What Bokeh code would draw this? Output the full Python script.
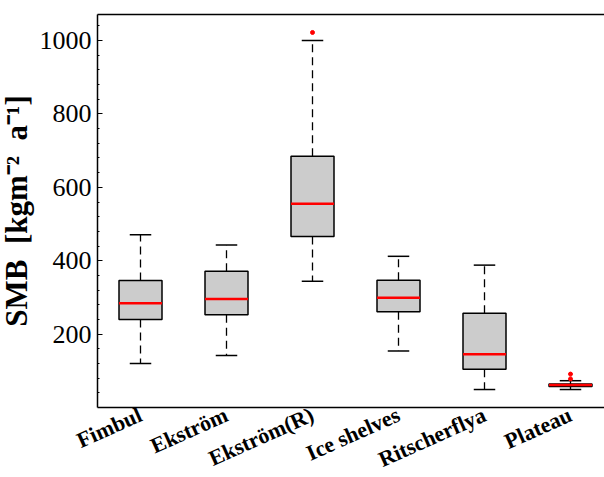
from bokeh.plotting import figure
from bokeh.models import Range1d, FixedTicker, LinearAxis
from bokeh.embed import file_html
from bokeh.resources import INLINE

# ---- data ----
categories = ["Fimbul", "Ekström", "Ekström(R)", "Ice shelves", "Ritscherflya", "Plateau"]
positions = [1, 2, 3, 4, 5, 6]
lower_whisker = [120, 142, 344, 154, 49, 49]
q1 = [240, 253, 466, 261, 104, 57]
median = [284, 296, 555, 299, 145, 61]
q3 = [346, 371, 685, 347, 257, 64]
upper_whisker = [471, 443, 1000, 412, 388, 73]
outlier_group = [3, 6, 6]
outlier_value = [1022, 91, 78]
y_ticks = [200, 400, 600, 800, 1000]
y_minor_ticks = [40 * k for k in range(1, 27)]
y_min, y_max = 0, 1071
x_min = 0.5

# ---- layout constants (pixels of the 604x477 page) ----
W, H = 604, 477
BOX_W = 0.5
CAP_W = 0.25
AX_LEFT_PX, AX_TOP_PX, AX_BOTTOM_PX = 97, 14, 407
PX_PER_X = 86.0
y_per_px = (y_max - y_min) / (AX_BOTTOM_PX - AX_TOP_PX)
x_lo = x_min - AX_LEFT_PX / PX_PER_X
x_hi = x_min + (W - AX_LEFT_PX) / PX_PER_X
y_lo = y_min - (H - AX_BOTTOM_PX) * y_per_px
y_hi = y_max + AX_TOP_PX * y_per_px

p = figure(width=W, height=H,
           x_range=Range1d(x_lo, x_hi), y_range=Range1d(y_lo, y_hi),
           output_backend="svg", toolbar_location=None,
           min_border=0)

p.background_fill_color = "white"
p.border_fill_color = "white"
p.outline_line_color = None
p.xgrid.visible = False
p.ygrid.visible = False

# whiskers (dashed)
p.segment(x0=positions, x1=positions, y0=q3, y1=upper_whisker,
          line_color="black", line_width=1.3, line_dash="8 5")
p.segment(x0=positions, x1=positions, y0=q1, y1=lower_whisker,
          line_color="black", line_width=1.3, line_dash="8 5")

# caps
cap_l = [x - CAP_W / 2 for x in positions]
cap_r = [x + CAP_W / 2 for x in positions]
p.segment(x0=cap_l, x1=cap_r, y0=upper_whisker, y1=upper_whisker,
          line_color="black", line_width=1.5)
p.segment(x0=cap_l, x1=cap_r, y0=lower_whisker, y1=lower_whisker,
          line_color="black", line_width=1.5)

# boxes
p.vbar(x=positions, width=BOX_W, bottom=q1, top=q3,
       fill_color="#cccccc", line_color="black", line_width=1.5)

# medians
box_l = [x - BOX_W / 2 for x in positions]
box_r = [x + BOX_W / 2 for x in positions]
p.segment(x0=box_l, x1=box_r, y0=median, y1=median,
          line_color="red", line_width=2.5)

# outliers
p.scatter(x=outlier_group, y=outlier_value, size=4, color="red")

# x axis: drawn at y = 0, rotated category labels below it
xa = p.xaxis[0]
xa.fixed_location = y_min
xa.bounds = (x_min, x_hi)
xa.ticker = FixedTicker(ticks=positions)
xa.major_label_overrides = {k: c for k, c in zip(positions, categories)}
xa.major_label_orientation = 0.42
xa.major_label_text_font = "Liberation Serif"
xa.major_label_text_font_style = "bold"
xa.major_label_text_font_size = "22px"
xa.major_label_text_color = "black"
xa.major_label_standoff = 0
xa.major_tick_line_color = None
xa.minor_tick_line_color = None
xa.axis_line_color = "black"
xa.axis_line_width = 1.5

# top frame line
top = LinearAxis(fixed_location=y_max, bounds=(x_min, x_hi),
                 ticker=FixedTicker(ticks=[]),
                 major_label_text_font_size="0px",
                 major_tick_line_color=None, minor_tick_line_color=None,
                 axis_line_color="black", axis_line_width=1.5)
p.add_layout(top, "above")

# y axis
ya = p.yaxis[0]
ya.fixed_location = x_min
ya.bounds = (y_min, y_max)
ya.ticker = FixedTicker(ticks=y_ticks, minor_ticks=y_minor_ticks)
ya.axis_label = "SMB\u2002[kgm\u207b\u00b2\u2002a\u207b\u00b9]"
ya.axis_label_text_font = "Liberation Serif"
ya.axis_label_text_font_style = "bold"
ya.axis_label_text_font_size = "31px"
ya.axis_label_text_color = "black"
ya.axis_label_standoff = 3
ya.major_label_text_font = "Liberation Serif"
ya.major_label_text_font_size = "26px"
ya.major_label_text_color = "black"
ya.major_label_standoff = 6
ya.major_tick_in = 5
ya.major_tick_out = 0
ya.minor_tick_in = 2
ya.minor_tick_out = 0
ya.axis_line_color = "black"
ya.axis_line_width = 1.5
ya.major_tick_line_color = "black"
ya.minor_tick_line_color = "black"

open("out.html", "w").write(file_html(p, INLINE))
